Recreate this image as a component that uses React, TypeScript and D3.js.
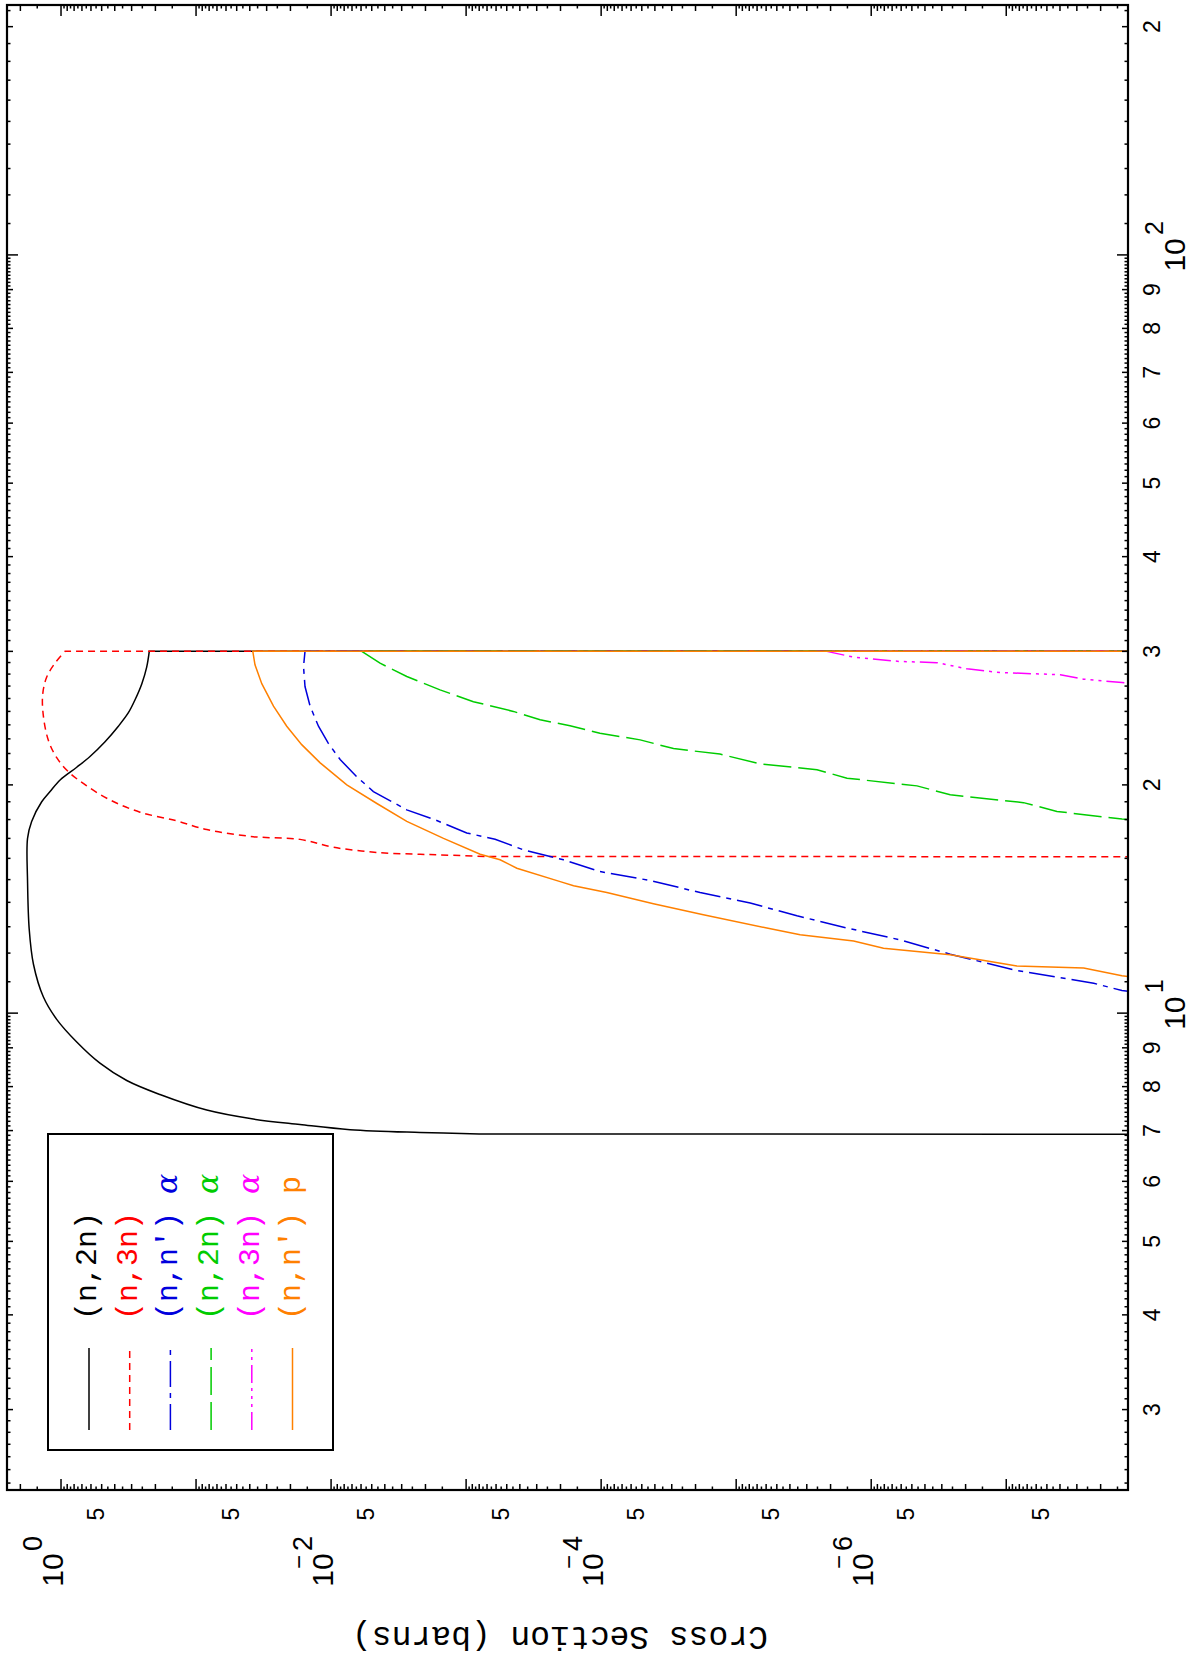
import React from 'react';
import * as d3 from 'd3';

// Neutron-induced reaction cross sections (barns) vs incident energy (MeV)
// values; 1e-9 marks the drop below the axis at thresholds / 30 MeV cut

const N2N_E = [6.92, 6.93, 6.96, 7.02, 7.13, 7.25, 7.45, 7.81, 8.15, 8.59, 9.16, 9.82, 10.5, 11.6, 12.9, 14.96, 17.0, 17.9, 19.0, 19.6, 20.3, 21.1, 21.8, 22.8, 23.9, 24.9, 25.9, 27.2, 28.6, 30.0, 30.0];
const N2N_S = [1e-9, 8e-4, 2.19e-3, 7.23e-3, 0.017, 0.0377, 0.0833, 0.185, 0.326, 0.515, 0.765, 1.08, 1.35, 1.6, 1.72, 1.77, 1.77, 1.65, 1.39, 1.205, 1.016, 0.765, 0.61, 0.472, 0.376, 0.317, 0.283, 0.252, 0.232, 0.222, 1e-9];

const N3N_E = [16.08, 16.09, 16.17, 16.2, 16.29, 16.55, 16.95, 17.09, 17.46, 17.93, 18.41, 19.11, 19.94, 20.82, 21.72, 22.9, 24.68, 26.32, 27.75, 28.95, 30.0, 30.0];
const N3N_S = [1e-9, 7.0e-4, 1.56e-3, 2.19e-3, 4.59e-3, 9.62e-3, 0.017, 0.0377, 0.0833, 0.139, 0.26, 0.434, 0.645, 0.883, 1.076, 1.241, 1.352, 1.367, 1.276, 1.107, 0.934, 1e-9];

const NNA_E = [10.5, 10.71, 10.95, 11.38, 11.96, 12.49, 12.95, 13.44, 13.97, 14.42, 14.96, 15.37, 15.93, 16.42, 16.96, 17.28, 17.95, 18.54, 19.6, 20.5, 21.6, 22.7, 23.9, 25.4, 26.96, 28.65, 30.0, 30.0];
const NNA_S = [5e-9, 1.39e-8, 2.25e-8, 8.34e-8, 2.6e-7, 6.1e-7, 1.51e-6, 3.55e-6, 7.87e-6, 1.85e-5, 4.34e-5, 1.02e-4, 1.9e-4, 3.77e-4, 6.1e-4, 9.89e-4, 1.65e-3, 2.75e-3, 4.86e-3, 6.45e-3, 8.57e-3, 0.0105, 0.0124, 0.0143, 0.0156, 0.016, 0.0156, 1e-9];

const N2NA_E = [17.8, 18.03, 18.45, 18.95, 19.41, 19.94, 20.41, 20.94, 21.32, 21.96, 22.33, 22.93, 23.39, 23.93, 24.37, 25.0, 25.75, 26.69, 27.8, 28.94, 30.0, 30.0];
const N2NA_S = [6e-9, 1.39e-8, 4.21e-8, 7.45e-8, 2.6e-7, 4.58e-7, 1.51e-6, 2.52e-6, 6.64e-6, 1.32e-5, 2.91e-5, 5.14e-5, 1.02e-4, 1.7e-4, 2.83e-4, 4.47e-4, 8.83e-4, 1.56e-3, 2.75e-3, 4.34e-3, 5.93e-3, 1e-9];

const N3NA_E = [27.0, 27.29, 27.57, 27.95, 28.13, 28.45, 28.99, 29.09, 29.48, 30.0, 30.0];
const N3NA_S = [6e-9, 1.39e-8, 2.67e-8, 3.98e-8, 1.11e-7, 1.95e-7, 3.26e-7, 6.1e-7, 1.35e-6, 2.13e-6, 1e-9];

const NNP_E = [10.9, 11.2, 11.47, 11.54, 11.94, 12.18, 12.45, 12.69, 12.95, 13.48, 13.94, 14.42, 14.72, 14.91, 15.53, 15.93, 16.2, 17.0, 17.9, 18.9, 20.0, 21.4, 22.6, 23.9, 25.4, 27.2, 28.8, 30.0, 30.0];
const NNP_S = [4e-9, 1.39e-8, 2.67e-8, 8.34e-8, 2.6e-7, 8.11e-7, 1.35e-6, 3.36e-6, 5.93e-6, 1.75e-5, 4.1e-5, 9.08e-5, 1.6e-4, 2.01e-4, 4.21e-4, 5.6e-4, 7.87e-4, 1.47e-3, 2.75e-3, 4.58e-3, 7.65e-3, 0.0121, 0.0165, 0.0213, 0.0267, 0.0326, 0.0366, 0.038, 1e-9];

const SERIES = [
  { label: '(n,2n)', tail: '', color: '#000000', dash: 'none', smooth: true, e: N2N_E, s: N2N_S },
  { label: '(n,3n)', tail: '', color: '#ff0000', dash: '7,5', smooth: true, e: N3N_E, s: N3N_S },
  { label: "(n,n')", tail: 'α', color: '#0000dd', dash: '26,6,5,6', smooth: false, e: NNA_E, s: NNA_S },
  { label: '(n,2n)', tail: 'α', color: '#00cc00', dash: '28,7', smooth: false, e: N2NA_E, s: N2NA_S },
  { label: '(n,3n)', tail: 'α', color: '#ff00ff', dash: '18,5,3,5,3,5,3,5', smooth: false, e: N3NA_E, s: N3NA_S },
  { label: "(n,n')", tail: 'p', color: '#ff8000', dash: 'none', smooth: false, e: NNP_E, s: NNP_S },
];

// axis ranges (log)
const E_DOMAIN = [2.35, 213.6];
const S_DOMAIN = [2.512, 1.254e-8];
const E_LABELS = [3, 4, 5, 6, 7, 8, 9, 20, 30, 40, 50, 60, 70, 80, 90, 200];
const E_DECADES = [1, 2];
const S_FIVES = [5e-1, 5e-2, 5e-3, 5e-4, 5e-5, 5e-6, 5e-7, 5e-8];
const S_DECADES = [0, -2, -4, -6];

const W = 1190, H = 1663;
const X0 = 7, X1 = 1128, Y0 = 5, Y1 = 1490;

export default function App() {
  const sx = d3.scaleLog().domain(S_DOMAIN).range([X0, X1]);
  const sy = d3.scaleLog().domain(E_DOMAIN).range([Y1, Y0]);

  const linear = d3.line<[number, number]>()
    .x(d => sx(d[1]))
    .y(d => sy(d[0]));
  const smooth = d3.line<[number, number]>()
    .x(d => sx(d[1]))
    .y(d => sy(d[0]))
    .curve(d3.curveCatmullRom.alpha(0.5));

  // smooth body, straight drops at both ends (threshold and 30 MeV cut)
  function pathFor(pts: [number, number][], isSmooth: boolean) {
    if (!isSmooth) return linear(pts) || '';
    const a = pts[0], b = pts[pts.length - 1];
    const mid = smooth(pts.slice(1, -1)) || '';
    return `M${sx(a[1])},${sy(a[0])}L` + mid.slice(1) + `L${sx(b[1])},${sy(b[0])}`;
  }

  // tick lists
  const eTicks: { v: number; len: number }[] = [];
  for (let k = 0; k <= 2; k++) {
    for (let i = 10; i < 100; i++) {
      const v = (i / 10) * Math.pow(10, k);
      if (v < E_DOMAIN[0] || v > E_DOMAIN[1]) continue;
      const len = i === 10 ? 11 : i % 10 === 0 ? 6 : 3.5;
      eTicks.push({ v, len });
    }
  }
  const sTicks: { v: number; len: number }[] = [];
  for (let k = -8; k <= 0; k++) {
    for (let i = 2; i < 20; i++) {
      const v = (i / 2) * Math.pow(10, k);
      if (v > S_DOMAIN[0] || v < S_DOMAIN[1]) continue;
      const len = i === 2 ? 11 : i % 2 === 0 ? 6 : 3.5;
      sTicks.push({ v, len });
    }
  }

  const num = { fontFamily: 'Liberation Sans, Arial, sans-serif', fill: '#000' };

  return (
    <div>
      <style>{`body{margin:0}`}</style>
      <svg width={W} height={H} style={{ display: 'block', background: '#fff' }}>
        <defs>
          <clipPath id="plot">
            <rect x={X0} y={Y0} width={X1 - X0} height={Y1 - Y0} />
          </clipPath>
        </defs>

        {/* curves */}
        <g clipPath="url(#plot)" fill="none">
          {SERIES.map((s, i) => {
            const pts = s.e.map((e, j) => [e, s.s[j]] as [number, number]);
            return (
              <path
                key={i}
                d={pathFor(pts, s.smooth)}
                stroke={s.color}
                strokeWidth={1.5}
                strokeDasharray={s.dash}
              />
            );
          })}
        </g>

        {/* ticks */}
        <g stroke="#000" strokeWidth={1.5}>
          {eTicks.map((t, i) => (
            <g key={'e' + i}>
              <line x1={X1} x2={X1 - t.len} y1={sy(t.v)} y2={sy(t.v)} />
              <line x1={X0} x2={X0 + t.len} y1={sy(t.v)} y2={sy(t.v)} />
            </g>
          ))}
          {sTicks.map((t, i) => (
            <g key={'s' + i}>
              <line x1={sx(t.v)} x2={sx(t.v)} y1={Y1} y2={Y1 - t.len} />
              <line x1={sx(t.v)} x2={sx(t.v)} y1={Y0} y2={Y0 + t.len} />
            </g>
          ))}
        </g>

        {/* frame */}
        <rect x={X0} y={Y0} width={X1 - X0} height={Y1 - Y0} fill="none" stroke="#000" strokeWidth={2.2} />

        {/* energy labels (right side) */}
        {E_LABELS.map(v => (
          <g key={'el' + v} transform={`translate(${X1 + 32},${sy(v)}) rotate(-90)`}>
            <text {...num} fontSize={23} textAnchor="middle" y={0}>
              {String(v).replace(/0+$/, '')}
            </text>
          </g>
        ))}
        {E_DECADES.map(k => (
          <g key={'ed' + k} transform={`translate(${X1 + 57},${sy(Math.pow(10, k))}) rotate(-90)`}>
            <text {...num} fontSize={30} textAnchor="middle">10</text>
            <text {...num} fontSize={25} x={20} y={-22}>{k}</text>
          </g>
        ))}

        {/* cross section labels (bottom) */}
        {S_FIVES.map(v => (
          <g key={'sf' + v} transform={`translate(${sx(v) + 2},1514) rotate(-90)`}>
            <text {...num} fontSize={23} textAnchor="middle">5</text>
          </g>
        ))}
        {S_DECADES.map(k => (
          <g key={'sd' + k} transform={`translate(${sx(Math.pow(10, k)) + 2},1570) rotate(-90)`}>
            <text {...num} fontSize={30} textAnchor="middle">10</text>
            {k < 0 && <text {...num} fontSize={24} x={8} y={-26} textAnchor="middle">−</text>}
            <text {...num} fontSize={27} x={19} y={-21}>{Math.abs(k)}</text>
          </g>
        ))}

        {/* axis title */}
        <text
          transform="translate(560,1627) rotate(180)"
          fontFamily="Liberation Mono, Courier New, monospace"
          fontSize={33}
          textAnchor="middle"
          fill="#000"
        >
          Cross Section (barns)
        </text>

        {/* legend */}
        <rect x={48} y={1134} width={285} height={316} fill="none" stroke="#000" strokeWidth={2} />
        {SERIES.map((s, i) => {
          const lx = 89 + 40.7 * i;
          return (
            <g key={'lg' + i}>
              <line x1={lx} x2={lx} y1={1430} y2={1348} stroke={s.color} strokeWidth={1.5} strokeDasharray={s.dash} />
              <g transform={`translate(${lx + 7},1320) rotate(-90)`}>
                <text fontFamily="Liberation Mono, Courier New, monospace" fontSize={30} fill={s.color}>
                  {s.label}
                  {s.tail && (
                    <tspan
                      dx={18}
                      fontFamily={s.tail === 'α' ? 'DejaVu Serif, serif' : 'Liberation Mono, monospace'}
                      fontStyle={s.tail === 'α' ? 'italic' : 'normal'}
                    >
                      {s.tail}
                    </tspan>
                  )}
                </text>
              </g>
            </g>
          );
        })}
      </svg>
    </div>
  );
}
